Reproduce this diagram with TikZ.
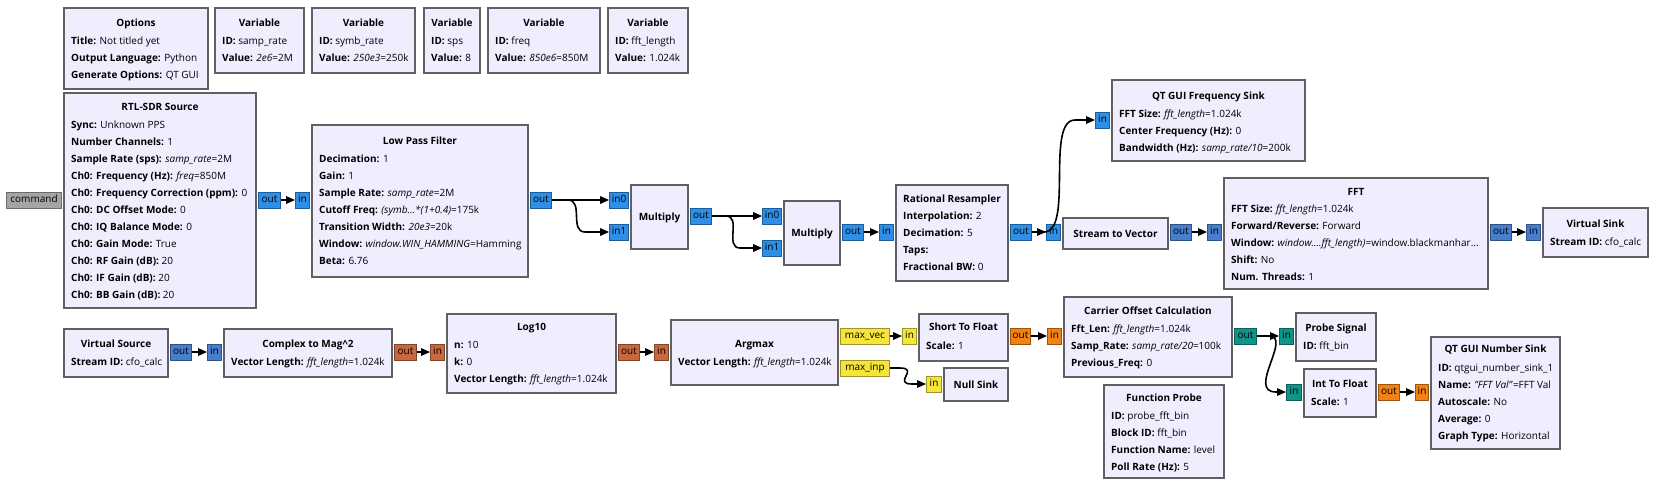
\documentclass[tikz,border=0pt]{standalone}
\usepackage{fontspec}
\setmainfont{Open Sans}
\usetikzlibrary{calc,arrows.meta}
\definecolor{blkfill}{RGB}{240,237,255}
\definecolor{blkdraw}{RGB}{97,97,97}
\definecolor{cplx}{RGB}{45,143,232}
\definecolor{cplxv}{RGB}{72,126,204}
\definecolor{fltv}{RGB}{200,104,62}
\definecolor{flt}{RGB}{242,130,20}
\definecolor{shrt}{RGB}{244,228,60}
\definecolor{intc}{RGB}{14,148,136}
\definecolor{msg}{RGB}{165,165,165}
\newcommand\grcfs{\fontsize{10}{11}\selectfont}
\tikzset{
  blockbox/.style={draw=blkdraw, fill=blkfill, line width=2pt, inner sep=0pt, anchor=north west},
  ttl/.style={font=\grcfs\bfseries, inner sep=0pt, anchor=base},
  prm/.style={font=\grcfs, inner sep=0pt, anchor=base west},
  port/.style={draw=#1!65!black, fill=#1, line width=0.9pt, font=\grcfs, inner xsep=0pt, inner ysep=0pt, minimum height=16pt, text height=7pt, text depth=1.5pt},
  conn/.style={draw=black, line width=1.6pt, -{Triangle[length=9pt,width=7.5pt]}},
}
\newcommand\grcblock[7]{%
  \node[blockbox, minimum width=#4pt, minimum height=#5pt] (#1) at (#2,-#3) {};
  \node[ttl] (#1-t) at ($(#1.north)+(0,{-#7-3.6})$) {#6};}
\newcommand\grcsimple[6]{%
  \node[blockbox, minimum width=#4pt, minimum height=#5pt] (#1) at (#2,-#3) {};
  \node[ttl] (#1-t) at ($(#1.center)+(0,-3.6)$) {#6};}
\newcommand\grcp[4]{%
  \node[prm] (#1-#2) at ($(#1.north west)+(8,{-#3-3.6})$) {#4};}
\newcommand\inport[6]{%
  \node[port=#4, minimum width=#5pt, anchor=east] (#1) at ($(#2.west |- 0,-#3)+(-1,0)$) {#6};}
\newcommand\outport[6]{%
  \node[port=#4, minimum width=#5pt, anchor=west] (#1) at ($(#2.east |- 0,-#3)+(1,0)$) {#6};}
\begin{document}
\begin{tikzpicture}[x=1pt,y=1pt]
\useasboundingbox (0,0) rectangle (1655,-488);
% ---------- top row
\grcblock{opt}{63}{7}{144}{81}{Options}{16}
\grcp{opt}{1}{34}{\textbf{Title:} Not titled yet}
\grcp{opt}{2}{51}{\textbf{Output Language:} Python}
\grcp{opt}{3}{68}{\textbf{Generate Options:} QT GUI}
\grcblock{v1}{214}{7}{89}{65}{Variable}{16}
\grcp{v1}{1}{34}{\textbf{ID:} samp\_rate}
\grcp{v1}{2}{51}{\textbf{Value:} \textit{2e6}=2M}
\grcblock{v2}{311}{7}{103}{65}{Variable}{16}
\grcp{v2}{1}{34}{\textbf{ID:} symb\_rate}
\grcp{v2}{2}{51}{\textbf{Value:} \textit{250e3}=250k}
\grcblock{v3}{423}{7}{56}{65}{Variable}{16}
\grcp{v3}{1}{34}{\textbf{ID:} sps}
\grcp{v3}{2}{51}{\textbf{Value:} 8}
\grcblock{v4}{487}{7}{112}{65}{Variable}{16}
\grcp{v4}{1}{34}{\textbf{ID:} freq}
\grcp{v4}{2}{51}{\textbf{Value:} \textit{850e6}=850M}
\grcblock{v5}{607}{7}{80}{65}{Variable}{16}
\grcp{v5}{1}{34}{\textbf{ID:} fft\_length}
\grcp{v5}{2}{51}{\textbf{Value:} 1.024k}
% ---------- main chain
\grcblock{rtl}{63}{92}{192}{215}{RTL-SDR Source}{15}
\grcp{rtl}{1}{33}{\textbf{Sync:} Unknown PPS}
\grcp{rtl}{2}{50}{\textbf{Number Channels:} 1}
\grcp{rtl}{3}{67}{\textbf{Sample Rate (sps):} \textit{samp\_rate}=2M}
\grcp{rtl}{4}{84}{\textbf{Ch0: Frequency (Hz):} \textit{freq}=850M}
\grcp{rtl}{5}{101}{\textbf{Ch0: Frequency Correction (ppm):} 0}
\grcp{rtl}{6}{118}{\textbf{Ch0: DC Offset Mode:} 0}
\grcp{rtl}{7}{135}{\textbf{Ch0: IQ Balance Mode:} 0}
\grcp{rtl}{8}{152}{\textbf{Ch0: Gain Mode:} True}
\grcp{rtl}{9}{169}{\textbf{Ch0: RF Gain (dB):} 20}
\grcp{rtl}{10}{186}{\textbf{Ch0: IF Gain (dB):} 20}
\grcp{rtl}{11}{203}{\textbf{Ch0: BB Gain (dB):} 20}
\grcblock{lpf}{311}{124}{216}{152}{Low Pass Filter}{16.5}
\grcp{lpf}{1}{35}{\textbf{Decimation:} 1}
\grcp{lpf}{2}{52}{\textbf{Gain:} 1}
\grcp{lpf}{3}{69}{\textbf{Sample Rate:} \textit{samp\_rate}=2M}
\grcp{lpf}{4}{86}{\textbf{Cutoff Freq:} \textit{(symb...*(1+0.4)}=175k}
\grcp{lpf}{5}{103}{\textbf{Transition Width:} \textit{20e3}=20k}
\grcp{lpf}{6}{120}{\textbf{Window:} \textit{window.WIN\_HAMMING}=Hamming}
\grcp{lpf}{7}{137}{\textbf{Beta:} 6.76}
\grcsimple{m1}{630}{184}{57}{64}{Multiply}
\grcsimple{m2}{783}{200}{56}{64}{Multiply}
\grcblock{rr}{895}{184}{112}{96}{Rational Resampler}{14.5}
\grcp{rr}{1}{32}{\textbf{Interpolation:} 2}
\grcp{rr}{2}{49}{\textbf{Decimation:} 5}
\grcp{rr}{3}{66}{\textbf{Taps:}}
\grcp{rr}{4}{83}{\textbf{Fractional BW:} 0}
\grcblock{qfs}{1111}{79}{193}{81}{QT GUI Frequency Sink}{17}
\grcp{qfs}{1}{34.5}{\textbf{FFT Size:} \textit{fft\_length}=1.024k}
\grcp{qfs}{2}{51.5}{\textbf{Center Frequency (Hz):} 0}
\grcp{qfs}{3}{68.5}{\textbf{Bandwidth (Hz):} \textit{samp\_rate/10}=200k}
\grcsimple{s2v}{1062}{217}{105}{31}{Stream to Vector}
\grcblock{fft}{1223}{177}{264}{111}{FFT}{14.7}
\grcp{fft}{1}{32}{\textbf{FFT Size:} \textit{fft\_length}=1.024k}
\grcp{fft}{2}{49}{\textbf{Forward/Reverse:} Forward}
\grcp{fft}{3}{66}{\textbf{Window:} \textit{window....fft\_length)}=window.blackmanhar...}
\grcp{fft}{4}{83}{\textbf{Shift:} No}
\grcp{fft}{5}{99.5}{\textbf{Num. Threads:} 1}
\grcblock{vsk}{1542}{207}{105}{49}{Virtual Sink}{17}
\grcp{vsk}{1}{34.7}{\textbf{Stream ID:} cfo\_calc}
% ---------- bottom chain
\grcblock{vsr}{63}{328}{104}{48}{Virtual Source}{16}
\grcp{vsr}{1}{33.7}{\textbf{Stream ID:} cfo\_calc}
\grcblock{cm}{223}{328}{168}{48}{Complex to Mag\^{}2}{16}
\grcp{cm}{1}{33.7}{\textbf{Vector Length:} \textit{fft\_length}=1.024k}
\grcblock{lg}{446}{313}{169}{79}{Log10}{14}
\grcp{lg}{1}{31.5}{\textbf{n:} 10}
\grcp{lg}{2}{48.5}{\textbf{k:} 0}
\grcp{lg}{3}{65.5}{\textbf{Vector Length:} \textit{fft\_length}=1.024k}
\grcblock{am}{670}{319}{167}{65}{Argmax}{25}
\grcp{am}{1}{43}{\textbf{Vector Length:} \textit{fft\_length}=1.024k}
\grcblock{stf}{918}{313}{89}{47}{Short To Float}{14.3}
\grcp{stf}{1}{32.7}{\textbf{Scale:} 1}
\grcsimple{nul}{943}{367}{64}{33}{Null Sink}
\grcblock{coc}{1063}{296}{168}{80}{Carrier Offset Calculation}{15}
\grcp{coc}{1}{33}{\textbf{Fft\_Len:} \textit{fft\_length}=1.024k}
\grcp{coc}{2}{50}{\textbf{Samp\_Rate:} \textit{samp\_rate/20}=100k}
\grcp{coc}{3}{66.5}{\textbf{Previous\_Freq:} 0}
\grcblock{ps}{1295}{312}{80}{48}{Probe Signal}{15.7}
\grcp{ps}{1}{33.7}{\textbf{ID:} fft\_bin}
\grcblock{itf}{1303}{368}{72}{48}{Int To Float}{16}
\grcp{itf}{1}{33.7}{\textbf{Scale:} 1}
\grcblock{qns}{1430}{336}{129}{112}{QT GUI Number Sink}{13}
\grcp{qns}{1}{31.7}{\textbf{ID:} qtgui\_number\_sink\_1}
\grcp{qns}{2}{48.7}{\textbf{Name:} \textit{"FFT Val"}=FFT Val}
\grcp{qns}{3}{65.7}{\textbf{Autoscale:} No}
\grcp{qns}{4}{82.7}{\textbf{Average:} 0}
\grcp{qns}{5}{99.7}{\textbf{Graph Type:} Horizontal}
\grcblock{fp}{1103}{384}{120}{93}{Function Probe}{14}
\grcp{fp}{1}{32}{\textbf{ID:} probe\_fft\_bin}
\grcp{fp}{2}{49}{\textbf{Block ID:} fft\_bin}
\grcp{fp}{3}{66}{\textbf{Function Name:} level}
\grcp{fp}{4}{83}{\textbf{Poll Rate (Hz):} 5}
% ---------- ports
\inport{rtlcmd}{rtl}{200}{msg}{55}{command}
\outport{rtlout}{rtl}{200}{cplx}{22}{out}
\inport{lpfin}{lpf}{200}{cplx}{14}{in}
\outport{lpfout}{lpf}{200}{cplx}{21}{out}
\inport{m1in0}{m1}{200}{cplx}{19}{in0}
\inport{m1in1}{m1}{232}{cplx}{19}{in1}
\outport{m1out}{m1}{216}{cplx}{21}{out}
\inport{m2in0}{m2}{216}{cplx}{19}{in0}
\inport{m2in1}{m2}{248}{cplx}{19}{in1}
\outport{m2out}{m2}{232}{cplx}{21}{out}
\inport{rrin}{rr}{232}{cplx}{14}{in}
\outport{rrout}{rr}{232}{cplx}{21}{out}
\inport{qfsin}{qfs}{120}{cplx}{14}{in}
\inport{s2vin}{s2v}{232}{cplx}{14}{in}
\outport{s2vout}{s2v}{232}{cplxv}{21}{out}
\inport{fftin}{fft}{232}{cplxv}{14}{in}
\outport{fftout}{fft}{232}{cplxv}{21}{out}
\inport{vskin}{vsk}{232}{cplxv}{14}{in}
\outport{vsrout}{vsr}{352}{cplxv}{21}{out}
\inport{cmin}{cm}{352}{cplxv}{14}{in}
\outport{cmout}{cm}{352}{fltv}{22}{out}
\inport{lgin}{lg}{352}{fltv}{14}{in}
\outport{lgout}{lg}{352}{fltv}{21}{out}
\inport{amin}{am}{352}{fltv}{14}{in}
\outport{amvec}{am}{336}{shrt}{49}{max\_vec}
\outport{aminp}{am}{368}{shrt}{49}{max\_inp}
\inport{stfin}{stf}{336}{shrt}{14}{in}
\outport{stfout}{stf}{336}{flt}{20}{out}
\inport{nulin}{nul}{384}{shrt}{15}{in}
\inport{cocin}{coc}{336}{flt}{14}{in}
\outport{cocout}{coc}{336}{intc}{22}{out}
\inport{psin}{ps}{336}{intc}{14}{in}
\inport{itfin}{itf}{392}{intc}{15}{in}
\outport{itfout}{itf}{392}{flt}{21}{out}
\inport{qnsin}{qns}{392}{flt}{13}{in}
% ---------- connections
\draw[conn] (rtlout.east) -- (lpfin.west);
\draw[conn] (lpfout.east) -- (m1in0.west);
\draw[conn] (lpfout.east) -- ++(16,0) .. controls +(16,0) and +(-16,0) .. ($(m1in1.west)+(-24,0)$) -- (m1in1.west);
\draw[conn] (m1out.east) -- (m2in0.west);
\draw[conn] (m1out.east) -- ++(14,0) .. controls +(16,0) and +(-16,0) .. ($(m2in1.west)+(-22,0)$) -- (m2in1.west);
\draw[conn] (m2out.east) -- (rrin.west);
\draw[conn] (rrout.east) -- (s2vin.west);
\draw[conn] (rrout.east) -- ++(12,0) .. controls +(30,0) and +(-30,0) .. ($(qfsin.west)+(-20,0)$) -- (qfsin.west);
\draw[conn] (s2vout.east) -- (fftin.west);
\draw[conn] (fftout.east) -- (vskin.west);
\draw[conn] (vsrout.east) -- (cmin.west);
\draw[conn] (cmout.east) -- (lgin.west);
\draw[conn] (lgout.east) -- (amin.west);
\draw[conn] (amvec.east) -- (stfin.west);
\draw[conn] (aminp.east) -- ++(10,0) .. controls +(20,0) and +(-20,0) .. ($(nulin.west)+(-14,0)$) -- (nulin.west);
\draw[conn] (stfout.east) -- (cocin.west);
\draw[conn] (cocout.east) -- (psin.west);
\draw[conn] (cocout.east) -- ++(12,0) .. controls +(24,0) and +(-30,0) .. ($(itfin.west)+(-10,0)$) -- (itfin.west);
\draw[conn] (itfout.east) -- (qnsin.west);
\end{tikzpicture}
\end{document}
